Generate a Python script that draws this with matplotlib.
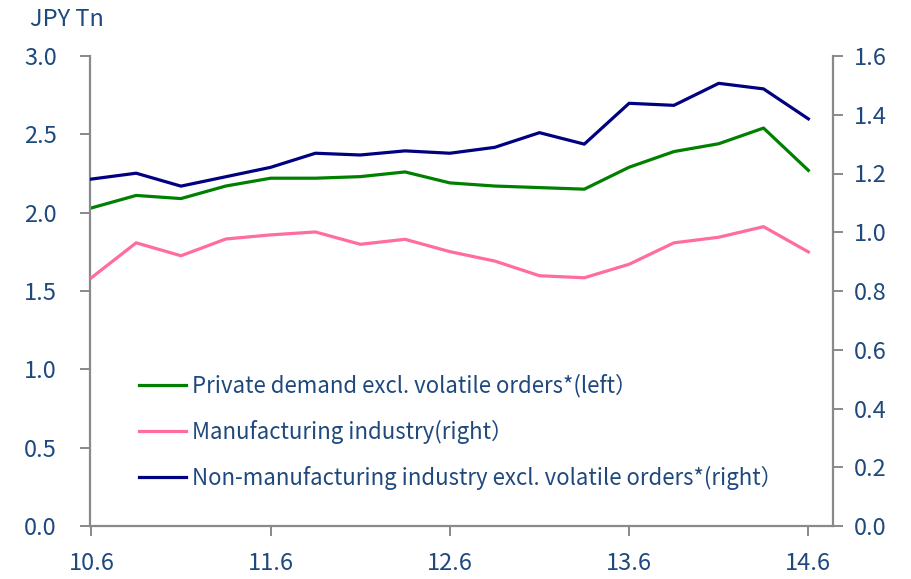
import matplotlib
matplotlib.use("Agg")
import matplotlib.pyplot as plt

periods = ["10.6","10.9","10.12","11.3","11.6","11.9","11.12","12.3","12.6",
           "12.9","12.12","13.3","13.6","13.9","13.12","14.3","14.6"]
private_demand = [2.03, 2.11, 2.09, 2.17, 2.22, 2.22, 2.23, 2.26, 2.19,
                  2.17, 2.16, 2.15, 2.29, 2.39, 2.44, 2.54, 2.27]
manufacturing = [0.845, 0.964, 0.920, 0.977, 0.991, 1.001, 0.959, 0.976, 0.934,
                 0.902, 0.852, 0.845, 0.891, 0.964, 0.983, 1.019, 0.933]
non_manufacturing = [1.181, 1.201, 1.157, 1.189, 1.221, 1.269, 1.263, 1.277, 1.269,
                     1.289, 1.339, 1.300, 1.439, 1.432, 1.507, 1.488, 1.386]
xtick_labels = ["10.6", "11.6", "12.6", "13.6", "14.6"]
left_ticks = [0.0, 0.5, 1.0, 1.5, 2.0, 2.5, 3.0]
right_ticks = [0.0, 0.2, 0.4, 0.6, 0.8, 1.0, 1.2, 1.4, 1.6]
labels = ["Private demand excl. volatile orders*(left\uff09",
          "Manufacturing industry(right\uff09",
          "Non-manufacturing industry excl. volatile orders*(right\uff09"]

txt = "#1F497D"
gray = "#898989"
font = ["Noto Sans CJK JP", "DejaVu Sans"]
plt.rcParams["font.family"] = font

W, H = 911, 579
fig = plt.figure(figsize=(W/100, H/100), dpi=100)
ax = fig.add_axes([90/W, 1-526/H, (833-90)/W, (526-56)/H])
ax2 = ax.twinx()

x = list(range(len(periods)))
l1, = ax.plot(x, private_demand, color="#008000", lw=2.3)
l2, = ax2.plot(x, manufacturing, color="#FF6C9E", lw=2.3)
l3, = ax2.plot(x, non_manufacturing, color="#000080", lw=2.3)

ax.set_ylim(0, 3.0)
ax2.set_ylim(0, 1.6)
ax.set_xlim(-0.03, 16.55)
ax.set_yticks(left_ticks)
ax.set_yticklabels([f"{v:.1f}" for v in left_ticks])
ax2.set_yticks(right_ticks)
ax2.set_yticklabels([f"{v:.1f}" for v in right_ticks])
ax.set_xticks([periods.index(p) for p in xtick_labels])
ax.set_xticklabels(xtick_labels)

for a in (ax, ax2):
    for s in a.spines.values():
        s.set_color(gray)
        s.set_linewidth(1.6)
    a.spines["top"].set_visible(False)
    a.tick_params(colors=gray, labelcolor=txt, labelsize=17, length=7, width=1.4)
ax.spines["right"].set_visible(False)
ax2.spines["left"].set_visible(False)
ax2.spines["bottom"].set_visible(False)
ax.tick_params(axis="y", pad=17)
ax2.tick_params(axis="y", pad=8)
ax.tick_params(axis="x", pad=12)

fig.text(30/W, 1-20/H, "JPY Tn", color=txt, fontsize=17, va="center", ha="left")

leg = fig.legend([l1, l2, l3], labels, loc="upper left",
                 bbox_to_anchor=(130/W, 1-365/H), frameon=False,
                 fontsize=16, labelcolor=txt, handlelength=2.1,
                 handletextpad=0.3, labelspacing=1.0, borderaxespad=0)

fig.savefig("out.png", dpi=100)
